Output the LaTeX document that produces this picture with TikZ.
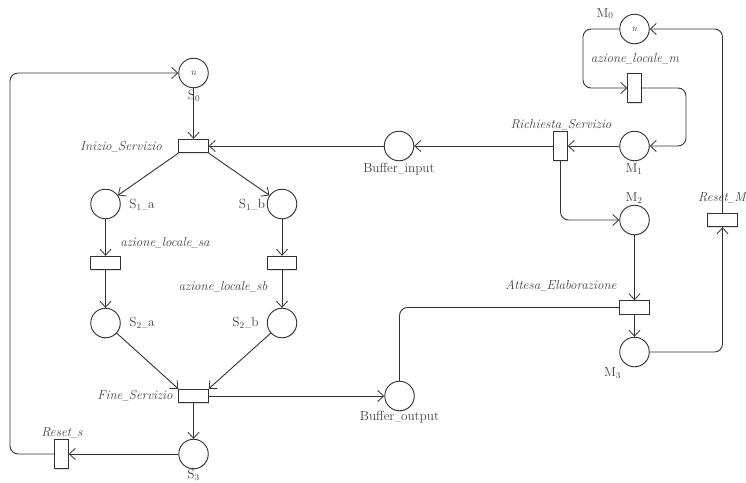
\documentclass[tikz,border=0pt]{standalone}
\usepackage{graphicx}
\usetikzlibrary{arrows.meta,shadows}
\newcommand{\us}{\kern0.02em\scalebox{0.62}[1]{\_}\kern0.02em}
\begin{document}
\begin{tikzpicture}[x=1pt,y=-1pt,
  place/.style={circle,draw=black!80,fill=white,line width=0.9pt,minimum size=29.5pt,inner sep=0pt,drop shadow={shadow xshift=0.6pt,shadow yshift=-0.8pt,opacity=0.25}},
  hbar/.style={rectangle,draw=black!80,fill=white,line width=0.9pt,minimum width=29.5pt,minimum height=13.5pt,inner sep=0pt,drop shadow={shadow xshift=0.6pt,shadow yshift=-0.8pt,opacity=0.25}},
  vbar/.style={hbar,minimum width=13.5pt,minimum height=29.5pt},
  lab/.style={inner sep=0pt,text=black!75,font=\fontsize{13.2}{15}\selectfont},
  act/.style={inner sep=0pt,text=black!75,font=\fontsize{13}{15}\selectfont\itshape},
  tok/.style={font=\fontsize{10}{11}\selectfont\itshape,text=black!75},
  arc/.style={draw=black!80,line width=0.9pt,-{Straight Barb[length=6pt,width=11pt,line width=0.8pt]},rounded corners=8pt},
  plainarc/.style={draw=black!80,line width=0.9pt,rounded corners=8pt}]
\useasboundingbox (0,0) rectangle (746,482);
% places
\node[place,tok] (S0) at (193.5,73) {n};
\node[place] (S1a) at (105.5,204) {};
\node[place] (S1b) at (282,204) {};
\node[place] (S2a) at (105.5,323) {};
\node[place] (S2b) at (282,323) {};
\node[place] (S3) at (193.5,454) {};
\node[place] (BI) at (399,146) {};
\node[place] (BO) at (399.5,396) {};
\node[place,tok] (M0) at (634.5,29) {n};
\node[place] (M1) at (634.5,146) {};
\node[place] (M2) at (634.5,220) {};
\node[place] (M3) at (634.5,352) {};
% transitions
\node[hbar] (TI) at (193.5,146) {};
\node[hbar] (TSa) at (105.5,263) {};
\node[hbar] (TSb) at (282,263) {};
\node[hbar] (TF) at (193.5,396) {};
\node[vbar] (TRs) at (61.5,454) {};
\node[vbar] (TRq) at (560.5,146) {};
\node[vbar] (TM) at (634.5,88) {};
\node[hbar] (TA) at (634.5,307.5) {};
\node[hbar] (TRM) at (722.5,220) {};
% connectors
\draw[arc] (S0) -- (TI);
\draw[arc] (TI.south west) -- (S1a);
\draw[arc] (TI.south east) -- (S1b);
\draw[arc] (S1a) -- (TSa);
\draw[arc] (S1b) -- (TSb);
\draw[arc] (TSa) -- (S2a);
\draw[arc] (TSb) -- (S2b);
\draw[arc] (S2a) -- (TF.north west);
\draw[arc] (S2b) -- (TF.north east);
\draw[arc] (TF) -- (S3);
\draw[arc] (TF) -- (BO);
\draw[arc] (S3) -- (TRs);
\draw[arc] (TRs.west) -- (10,454) -- (10,73) -- (S0.west);
\draw[arc] (BI) -- (TI);
\draw[arc] (TRq) -- (BI);
\draw[arc] (M1) -- (TRq);
\draw[arc] (M0.west) -- (583,29) -- (583,88) -- (TM.west);
\draw[arc] (TM.east) -- (686,88) -- (686,146) -- (M1.east);
\draw[arc] (TRq.south) -- (560.5,220) -- (M2.west);
\draw[arc] (M2) -- (TA);
\draw[arc] (TA) -- (M3);
\draw[plainarc] (TA.west) -- (399.5,307.5) -- (BO.north);
\draw[arc] (M3.east) -- (722.5,352) -- (TRM.south);
\draw[arc] (TRM.north) -- (722.5,29) -- (M0.east);
% place labels
\node[lab] at (194,96) {S$_0$};
\node[lab] at (142,204.5) {S$_1$\us a};
\node[lab] at (252,204.5) {S$_1$\us b};
\node[lab] at (142,322.5) {S$_2$\us a};
\node[lab] at (245.5,322.5) {S$_2$\us b};
\node[lab] at (193.5,475) {S$_3$};
\node[lab] at (399,169) {Buffer\us input};
\node[lab] at (399.5,417.5) {Buffer\us output};
\node[lab] at (605,13.5) {M$_0$};
\node[lab] at (634,169) {M$_1$};
\node[lab] at (634,198) {M$_2$};
\node[lab] at (612.5,373) {M$_3$};
% transition labels
\node[act] at (121,147) {Inizio\us Servizio};
\node[act] at (165,243) {azione\us locale\us sa};
\node[act] at (223,287) {azione\us locale\us sb};
\node[act] at (135,396) {Fine\us Servizio};
\node[act] at (62,433) {Reset\us s};
\node[act] at (635,59) {azione\us locale\us m};
\node[act] at (561,125) {Richiesta\us Servizio};
\node[act] at (561,286) {Attesa\us Elaborazione};
\node[act,anchor=west] at (698,198) {Reset\us M};
\end{tikzpicture}
\end{document}
